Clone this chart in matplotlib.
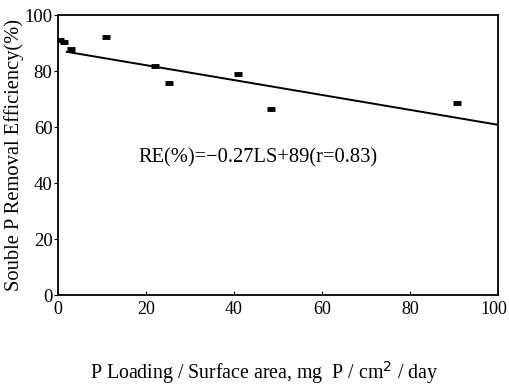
import matplotlib
matplotlib.use('Agg')
from matplotlib import pyplot as plt
from matplotlib.transforms import ScaledTranslation

plt.rcParams['font.family'] = 'Liberation Serif'

# measured points
loading = [0.5, 1.4, 3.0, 11.0, 22.0, 25.3, 40.8, 48.4, 90.7]
efficiency = [91.0, 90.3, 88.0, 92.0, 81.8, 75.7, 79.0, 66.6, 68.6]

# fitted line as drawn
fit_x = [2.0, 100.0]
fit_slope = -0.266
fit_intercept = 87.4

fig = plt.figure(dpi=100, figsize=(5.1, 3.89))
ax = fig.add_axes([0.1137, 0.2416, 0.8628, 0.7198])

ax.plot(loading, efficiency, linestyle='none', marker='_', markersize=6,
        markeredgewidth=3.5, color='black')
ax.plot(fit_x, [fit_slope * x + fit_intercept for x in fit_x], c='black', lw=1.4)

ax.text(45.5, 49, 'RE(%)=\u22120.27LS+89(r=0.83)', fontsize=14.8, ha='center', va='center')

ax.set_xlim(0, 100)
ax.set_ylim(0, 100)
ax.set_xticks([0, 20, 40, 60, 80, 100])
ax.set_yticks([0, 20, 40, 60, 80, 100])
ax.tick_params(axis='x', direction='in', length=3, labelsize=13, pad=4)
ax.tick_params(axis='y', direction='out', length=3, labelsize=13.5, pad=1)
last = ax.xaxis.get_major_ticks()[-1].label1
last.set_ha('right')
last.set_transform(last.get_transform() + ScaledTranslation(6.5 / 72, 0, fig.dpi_scale_trans))
for s in ax.spines.values():
    s.set_linewidth(1.3)

ax.set_ylabel('Souble P Removal Efficiency(%)', fontsize=14.8, labelpad=0)
fig.text(0.517, 0.043, 'P Loading / Surface area, mg  P / cm$^2$ / day',
         fontsize=14.3, ha='center', va='center')

plt.savefig('out.png')
